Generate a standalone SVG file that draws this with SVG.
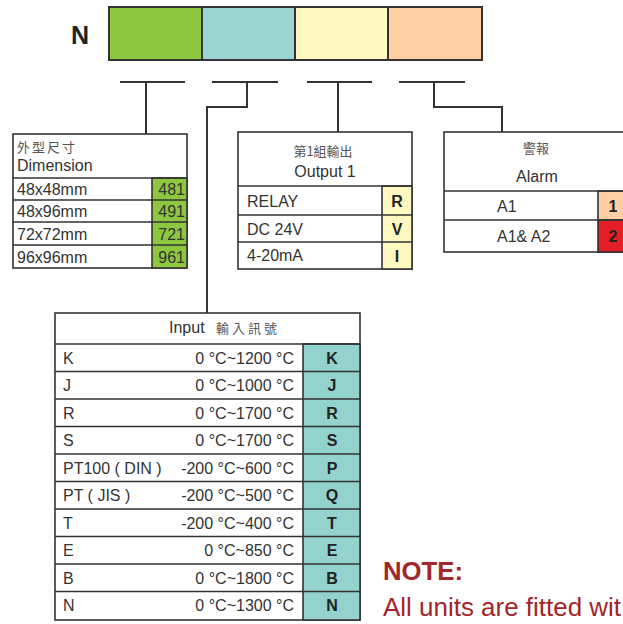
<svg xmlns="http://www.w3.org/2000/svg" width="623" height="624" viewBox="0 0 623 624">
<style>
.ln{fill:none;stroke:#333;stroke-width:2}
.bx{fill:#fff;stroke:#333;stroke-width:1.6}
.cl{stroke:#333;stroke-width:1.6}
.t{font-family:"Liberation Sans",Arial,sans-serif;font-size:16px;fill:#333}
.b{font-family:"Liberation Sans",Arial,sans-serif;font-size:16px;font-weight:bold;fill:#222;text-anchor:middle}
.cj{font-family:"Noto Sans CJK TC","Noto Sans CJK SC",sans-serif;font-size:13px;fill:#555}
.r{text-anchor:end}
.m{text-anchor:middle}
.note{font-family:"Liberation Sans",Arial,sans-serif;fill:#a3262a}
</style>
<rect width="623" height="624" fill="#fff"/>
<g id="code">
<text x="80" y="44" font-family="Liberation Sans,Arial,sans-serif" font-size="25" font-weight="bold" fill="#222" text-anchor="middle">N</text>
<rect x="109" y="7" width="93" height="53" fill="#8DC63F" stroke="#333" stroke-width="2"/>
<rect x="202" y="7" width="93" height="53" fill="#9AD5D1" stroke="#333" stroke-width="2"/>
<rect x="295" y="7" width="93" height="53" fill="#FFF8C0" stroke="#333" stroke-width="2"/>
<rect x="388" y="7" width="94" height="53" fill="#FDCFA3" stroke="#333" stroke-width="2"/>
</g>
<g id="connectors">
<path class="ln" d="M120,82H185M146,82V134"/>
<path class="ln" d="M212,82H278M247,82V107H207V313"/>
<path class="ln" d="M307,82H372M338,82V132"/>
<path class="ln" d="M399,82H465M434,82V107H502V132"/>
</g>
<g id="dimension">
<rect class="bx" x="13" y="134" width="174" height="134"/>
<rect x="152" y="178" width="35" height="90" fill="#8DC63F" class="cl"/>
<path class="cl" d="M13,178H187M13,200H187M13,222H187M13,245H187"/>
<text class="cj" x="17" y="152" letter-spacing="2">外型尺寸</text>
<text class="t" x="17" y="171">Dimension</text>
<text class="t" x="17" y="195">48x48mm</text>
<text class="t" x="17" y="217">48x96mm</text>
<text class="t" x="17" y="240">72x72mm</text>
<text class="t" x="17" y="263">96x96mm</text>
<text class="t r" x="185" y="195">481</text>
<text class="t r" x="185" y="217">491</text>
<text class="t r" x="185" y="240">721</text>
<text class="t r" x="185" y="263">961</text>
</g>
<g id="output">
<rect class="bx" x="238" y="132" width="174" height="137"/>
<rect x="382" y="186" width="30" height="83" fill="#FFF8C0" class="cl"/>
<path class="cl" d="M238,186H412M238,215H412M238,242H412"/>
<text class="cj m" x="323" y="156">第1組輸出</text>
<text class="t m" x="325" y="177">Output 1</text>
<text class="t" x="247" y="207">RELAY</text>
<text class="t" x="247" y="235">DC 24V</text>
<text class="t" x="247" y="261">4-20mA</text>
<text class="b" x="397" y="207">R</text>
<text class="b" x="397" y="235">V</text>
<text class="b" x="397" y="262">I</text>
</g>
<g id="alarm">
<rect class="bx" x="444" y="132" width="200" height="120"/>
<rect x="598" y="191" width="46" height="29" fill="#FDCFA3" class="cl"/>
<rect x="598" y="220" width="46" height="32" fill="#E31E24" class="cl"/>
<path class="cl" d="M444,191H644M444,220H644"/>
<text class="cj m" x="536" y="153">警報</text>
<text class="t m" x="537" y="182">Alarm</text>
<text class="t" x="497" y="212">A1</text>
<text class="t" x="497" y="242">A1&amp; A2</text>
<text class="b" x="613" y="212">1</text>
<text class="b" x="613" y="242">2</text>
</g>
<g id="input">
<rect class="bx" x="55" y="313" width="305" height="307"/>
<rect x="303" y="344" width="57" height="276" fill="#94D2CD" class="cl"/>
<path class="cl" d="M55,344H360M55,371.5H360M55,399H360M55,426.5H360M55,454H360M55,481.5H360M55,509H360M55,536.5H360M55,564H360M55,591.5H360"/>
<text class="t" x="169" y="333" font-size="15">Input</text>
<text class="cj" x="216" y="333" letter-spacing="3">輸入訊號</text>
<text class="t" x="63" y="364">K</text>
<text class="t" x="63" y="391">J</text>
<text class="t" x="63" y="419">R</text>
<text class="t" x="63" y="446">S</text>
<text class="t" x="63" y="474">PT100 ( DIN )</text>
<text class="t" x="63" y="501">PT ( JIS )</text>
<text class="t" x="63" y="529">T</text>
<text class="t" x="63" y="556">E</text>
<text class="t" x="63" y="584">B</text>
<text class="t" x="63" y="611">N</text>
<text class="t r" x="294" y="364">0 °C~1200 °C</text>
<text class="t r" x="294" y="391">0 °C~1000 °C</text>
<text class="t r" x="294" y="419">0 °C~1700 °C</text>
<text class="t r" x="294" y="446">0 °C~1700 °C</text>
<text class="t r" x="294" y="474">-200 °C~600 °C</text>
<text class="t r" x="294" y="501">-200 °C~500 °C</text>
<text class="t r" x="294" y="529">-200 °C~400 °C</text>
<text class="t r" x="294" y="556">0 °C~850 °C</text>
<text class="t r" x="294" y="584">0 °C~1800 °C</text>
<text class="t r" x="294" y="611">0 °C~1300 °C</text>
<text class="b" x="332" y="364">K</text>
<text class="b" x="332" y="391">J</text>
<text class="b" x="332" y="419">R</text>
<text class="b" x="332" y="446">S</text>
<text class="b" x="332" y="474">P</text>
<text class="b" x="332" y="501">Q</text>
<text class="b" x="332" y="529">T</text>
<text class="b" x="332" y="556">E</text>
<text class="b" x="332" y="584">B</text>
<text class="b" x="332" y="611">N</text>
</g>
<g id="note">
<text class="note" x="383" y="580" font-size="26" font-weight="bold" textLength="80" lengthAdjust="spacingAndGlyphs">NOTE:</text>
<text class="note" x="383" y="616" font-size="25" textLength="238" lengthAdjust="spacingAndGlyphs">All units are fitted wit</text>
</g>
</svg>
